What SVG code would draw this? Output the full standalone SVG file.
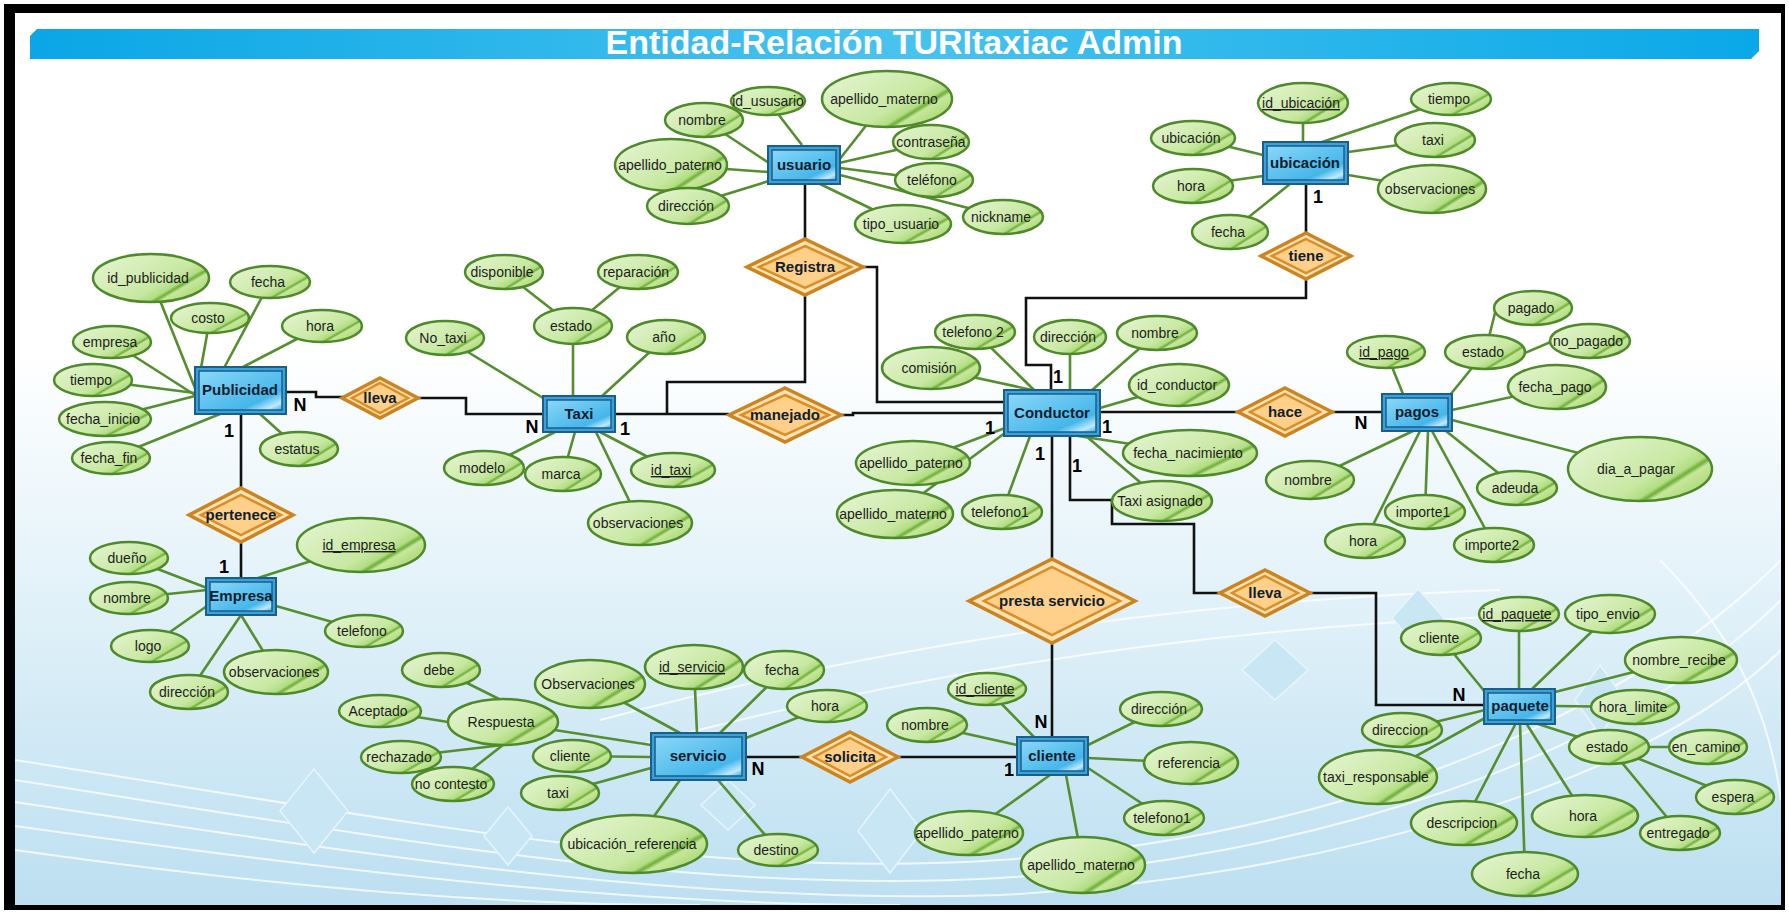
<svg xmlns="http://www.w3.org/2000/svg" width="1789" height="912" viewBox="0 0 1789 912">
<defs>
<linearGradient id="bg" x1="0" y1="0" x2="0" y2="1">
<stop offset="0" stop-color="#FFFFFF"/><stop offset="0.38" stop-color="#FFFFFF"/><stop offset="0.7" stop-color="#DDEFF8"/><stop offset="1" stop-color="#BCDFF1"/>
</linearGradient>
<linearGradient id="bar" x1="0" y1="0" x2="1" y2="0">
<stop offset="0" stop-color="#0AA6E6"/><stop offset="0.5" stop-color="#48C3EF"/><stop offset="1" stop-color="#0AA8E8"/>
</linearGradient>
<linearGradient id="ag" x1="0" y1="0.15" x2="1" y2="0.85">
<stop offset="0" stop-color="#E4F4D0"/><stop offset="0.6" stop-color="#C8E8A2"/><stop offset="0.71" stop-color="#B3DD84"/><stop offset="0.745" stop-color="#6FAF38"/><stop offset="0.78" stop-color="#C6E79C"/><stop offset="1" stop-color="#A2D264"/>
</linearGradient>
<linearGradient id="eg" x1="0" y1="0" x2="1" y2="1">
<stop offset="0" stop-color="#8AD7F8"/><stop offset="0.75" stop-color="#45B6EA"/><stop offset="0.9" stop-color="#BFEAFB"/><stop offset="1" stop-color="#3BA9DE"/>
</linearGradient>
<style>
.c{fill:none;stroke:#111;stroke-width:2.6}
.a{stroke:#558E2E;stroke-width:2.6}
.at{fill:url(#ag);stroke:#4F8A2A;stroke-width:2.5}
.t{font-family:"Liberation Sans",Arial,sans-serif;font-size:14px;fill:#1d1d1d;text-anchor:middle}
.u{text-decoration:underline}
.eo{fill:#3AA2D6;stroke:#1A5E8C;stroke-width:2}
.ei{fill:url(#eg);stroke:#1A5E8C;stroke-width:1.5}
.et{font-family:"Liberation Sans",Arial,sans-serif;font-size:15px;font-weight:bold;fill:#0f1e2e;text-anchor:middle}
.ro{fill:#FFE2B3;stroke:#CC8420;stroke-width:3.5}
.ri{fill:#FFD08A;stroke:#D98E26;stroke-width:2.5}
.card{font-family:"Liberation Sans",Arial,sans-serif;font-size:18px;font-weight:bold;fill:#000;text-anchor:middle}
.deco{fill:#C9E6F5;stroke:#E8F5FC;stroke-width:1.5}
.arc{fill:none;stroke:#FFFFFF;stroke-opacity:0.75;stroke-width:2}
</style>
</defs>

<!-- background & frame -->
<rect x="0" y="0" width="1789" height="912" fill="#FFFFFF"/>
<rect x="12" y="12" width="1772" height="895" fill="url(#bg)"/>
<g id="decoration">
<path class="arc" d="M15,760 C400,820 700,880 1000,860 C1300,840 1600,740 1781,560"/>
<path class="arc" d="M15,780 C400,840 700,895 1000,878 C1300,860 1620,760 1781,600"/>
<path class="arc" d="M15,802 C400,860 700,905 1000,895 C1300,880 1640,790 1781,650"/>
<path class="arc" d="M15,826 C400,880 650,905 900,905"/>
<path class="arc" d="M15,850 C300,890 500,905 700,905"/>
<path class="arc" d="M600,720 C900,640 1200,600 1500,590"/>
<path class="arc" d="M640,745 C940,665 1240,625 1540,615"/>
<path class="arc" d="M1660,560 C1740,640 1770,720 1781,800"/>
<polygon class="deco" points="314,769 348,811 314,853 280,811"/>
<polygon class="deco" points="508,807 532,836 508,865 484,836"/>
<polygon class="deco" points="728,780 755,805 728,830 701,805"/>
<polygon class="deco" points="890,789 922,831 890,873 858,831"/>
<polygon class="deco" points="1275,640 1308,670 1275,700 1242,670"/>
<polygon class="deco" points="1418,589 1444,618 1418,647 1392,618"/>
<polygon class="deco" points="1600,665 1625,700 1600,735 1575,700"/>
</g>
<g id="frame">
<rect x="4" y="4" width="11" height="906" fill="#000"/>
<rect x="4" y="4" width="1781" height="9" fill="#000"/>
<rect x="1781" y="4" width="4" height="906" fill="#000"/>
<rect x="4" y="905" width="1781" height="5" fill="#000"/>
</g>
<g id="title">
<polygon points="37,29 1759,29 1759,51 1751,59 30,59 30,36" fill="url(#bar)"/>
<text x="894" y="54" font-family="'Liberation Sans',Arial,sans-serif" font-size="34" font-weight="bold" fill="#FFFFFF" text-anchor="middle">Entidad-Relación TURItaxiac Admin</text>
</g>

<g id="connectors">
<!-- relationship connectors -->
<path class="c" d="M805,184 V240"/>
<path class="c" d="M862,267 H877 V402 H1004"/>
<path class="c" d="M805,295 V382 H667 V414"/>
<path class="c" d="M615,414 H729"/>
<path class="c" d="M841,415 H853 V413 H1004"/>
<path class="c" d="M1306,184 V234"/>
<path class="c" d="M1306,279 V298 H1026 V365 H1051 V390"/>
<path class="c" d="M1100,412 H1238"/>
<path class="c" d="M1332,412 H1382"/>
<path class="c" d="M286,392 H316 V397 H343"/>
<path class="c" d="M418,398 H466 V414 H543"/>
<path class="c" d="M241,414 V488"/>
<path class="c" d="M241,542 V578"/>
<path class="c" d="M1052,436 V559"/>
<path class="c" d="M1052,643 V737"/>
<path class="c" d="M1070,436 V500 H1112 V524 H1194 V593 H1220"/>
<path class="c" d="M1310,593 H1376 V705 H1484"/>
<path class="c" d="M746,757 H802"/>
<path class="c" d="M898,757 H1017"/>
<!-- attribute links: usuario -->
<line class="a" x1="768" y1="101" x2="802" y2="145"/>
<line class="a" x1="887" y1="99" x2="839" y2="160"/>
<line class="a" x1="704" y1="120" x2="769" y2="163"/>
<line class="a" x1="931" y1="142" x2="839" y2="163"/>
<line class="a" x1="671" y1="165" x2="768" y2="172"/>
<line class="a" x1="934" y1="180" x2="840" y2="168"/>
<line class="a" x1="688" y1="206" x2="769" y2="181"/>
<line class="a" x1="903" y1="224" x2="820" y2="184"/>
<line class="a" x1="1003" y1="217" x2="840" y2="175"/>
<!-- ubicacion -->
<line class="a" x1="1303" y1="103" x2="1303" y2="142"/>
<line class="a" x1="1451" y1="99" x2="1322" y2="142"/>
<line class="a" x1="1193" y1="138" x2="1263" y2="155"/>
<line class="a" x1="1435" y1="140" x2="1348" y2="152"/>
<line class="a" x1="1193" y1="186" x2="1263" y2="176"/>
<line class="a" x1="1432" y1="189" x2="1348" y2="175"/>
<line class="a" x1="1230" y1="232" x2="1290" y2="184"/>
<!-- Publicidad -->
<line class="a" x1="151" y1="278" x2="197" y2="393"/>
<line class="a" x1="270" y1="282" x2="224" y2="368"/>
<line class="a" x1="210" y1="318" x2="201" y2="368"/>
<line class="a" x1="322" y1="326" x2="241" y2="368"/>
<line class="a" x1="112" y1="342" x2="195" y2="395"/>
<line class="a" x1="93" y1="380" x2="195" y2="393"/>
<line class="a" x1="105" y1="419" x2="195" y2="396"/>
<line class="a" x1="111" y1="458" x2="220" y2="414"/>
<line class="a" x1="299" y1="449" x2="260" y2="414"/>
<!-- Taxi -->
<line class="a" x1="504" y1="272" x2="573" y2="326"/>
<line class="a" x1="638" y1="272" x2="573" y2="326"/>
<line class="a" x1="573" y1="326" x2="573" y2="397"/>
<line class="a" x1="445" y1="338" x2="543" y2="398"/>
<line class="a" x1="666" y1="337" x2="601" y2="397"/>
<line class="a" x1="484" y1="468" x2="555" y2="432"/>
<line class="a" x1="563" y1="474" x2="575" y2="432"/>
<line class="a" x1="673" y1="470" x2="600" y2="432"/>
<line class="a" x1="640" y1="523" x2="596" y2="432"/>
<!-- Conductor -->
<line class="a" x1="975" y1="332" x2="1034" y2="390"/>
<line class="a" x1="1070" y1="337" x2="1070" y2="390"/>
<line class="a" x1="1157" y1="333" x2="1091" y2="391"/>
<line class="a" x1="931" y1="368" x2="1032" y2="390"/>
<line class="a" x1="1179" y1="385" x2="1100" y2="408"/>
<line class="a" x1="913" y1="463" x2="1005" y2="428"/>
<line class="a" x1="895" y1="514" x2="1005" y2="433"/>
<line class="a" x1="1002" y1="512" x2="1030" y2="436"/>
<line class="a" x1="1190" y1="453" x2="1078" y2="436"/>
<line class="a" x1="1162" y1="501" x2="1086" y2="436"/>
<!-- pagos -->
<line class="a" x1="1386" y1="352" x2="1403" y2="394"/>
<line class="a" x1="1485" y1="352" x2="1450" y2="395"/>
<line class="a" x1="1487" y1="345" x2="1497" y2="305"/>
<line class="a" x1="1518" y1="356" x2="1560" y2="338"/>
<line class="a" x1="1557" y1="387" x2="1452" y2="410"/>
<line class="a" x1="1640" y1="469" x2="1452" y2="420"/>
<line class="a" x1="1310" y1="480" x2="1413" y2="431"/>
<line class="a" x1="1517" y1="488" x2="1446" y2="431"/>
<line class="a" x1="1425" y1="512" x2="1428" y2="431"/>
<line class="a" x1="1365" y1="541" x2="1420" y2="431"/>
<line class="a" x1="1494" y1="545" x2="1432" y2="431"/>
<!-- Empresa -->
<line class="a" x1="361" y1="545" x2="258" y2="578"/>
<line class="a" x1="129" y1="558" x2="207" y2="588"/>
<line class="a" x1="129" y1="598" x2="207" y2="590"/>
<line class="a" x1="364" y1="631" x2="276" y2="606"/>
<line class="a" x1="150" y1="646" x2="207" y2="606"/>
<line class="a" x1="276" y1="672" x2="241" y2="615"/>
<line class="a" x1="189" y1="692" x2="241" y2="615"/>
<!-- servicio -->
<line class="a" x1="590" y1="684" x2="680" y2="733"/>
<line class="a" x1="694" y1="667" x2="697" y2="733"/>
<line class="a" x1="784" y1="670" x2="720" y2="733"/>
<line class="a" x1="827" y1="706" x2="746" y2="738"/>
<line class="a" x1="503" y1="722" x2="651" y2="745"/>
<line class="a" x1="572" y1="756" x2="651" y2="757"/>
<line class="a" x1="560" y1="793" x2="651" y2="768"/>
<line class="a" x1="634" y1="844" x2="680" y2="780"/>
<line class="a" x1="778" y1="850" x2="718" y2="780"/>
<line class="a" x1="441" y1="670" x2="501" y2="700"/>
<line class="a" x1="380" y1="711" x2="448" y2="722"/>
<line class="a" x1="401" y1="757" x2="503" y2="745"/>
<line class="a" x1="453" y1="784" x2="503" y2="745"/>
<!-- cliente -->
<line class="a" x1="987" y1="689" x2="1034" y2="737"/>
<line class="a" x1="927" y1="725" x2="1017" y2="745"/>
<line class="a" x1="1161" y1="709" x2="1088" y2="745"/>
<line class="a" x1="1191" y1="763" x2="1088" y2="758"/>
<line class="a" x1="1164" y1="818" x2="1088" y2="768"/>
<line class="a" x1="969" y1="833" x2="1050" y2="775"/>
<line class="a" x1="1083" y1="865" x2="1066" y2="775"/>
<!-- paquete -->
<line class="a" x1="1441" y1="638" x2="1485" y2="692"/>
<line class="a" x1="1519" y1="614" x2="1519" y2="689"/>
<line class="a" x1="1610" y1="614" x2="1532" y2="689"/>
<line class="a" x1="1681" y1="660" x2="1555" y2="692"/>
<line class="a" x1="1635" y1="707" x2="1555" y2="706"/>
<line class="a" x1="1402" y1="730" x2="1485" y2="710"/>
<line class="a" x1="1609" y1="747" x2="1535" y2="723"/>
<line class="a" x1="1609" y1="747" x2="1708" y2="747"/>
<line class="a" x1="1609" y1="747" x2="1735" y2="797"/>
<line class="a" x1="1609" y1="747" x2="1680" y2="833"/>
<line class="a" x1="1378" y1="777" x2="1485" y2="718"/>
<line class="a" x1="1464" y1="823" x2="1516" y2="723"/>
<line class="a" x1="1585" y1="816" x2="1526" y2="723"/>
<line class="a" x1="1525" y1="874" x2="1520" y2="723"/>
<!-- cardinalities -->
<text class="card" x="300" y="411">N</text>
<text class="card" x="229" y="437">1</text>
<text class="card" x="532" y="433">N</text>
<text class="card" x="625" y="435">1</text>
<text class="card" x="990" y="434">1</text>
<text class="card" x="1058" y="383">1</text>
<text class="card" x="1107" y="433">1</text>
<text class="card" x="1040" y="460">1</text>
<text class="card" x="1077" y="472">1</text>
<text class="card" x="1361" y="429">N</text>
<text class="card" x="1318" y="203">1</text>
<text class="card" x="224" y="573">1</text>
<text class="card" x="1041" y="728">N</text>
<text class="card" x="758" y="775">N</text>
<text class="card" x="1009" y="776">1</text>
<text class="card" x="1459" y="701">N</text>
</g>

<!-- relationships -->
<g id="r-registra"><polygon class="ro" points="805,239 863,267 805,295 747,267"/><polygon class="ri" points="805,246 851,267 805,288 759,267"/><text class="et" x="805" y="272">Registra</text></g>
<g id="r-tiene"><polygon class="ro" points="1306,233 1351,256 1306,279 1261,256"/><polygon class="ri" points="1306,239 1340,256 1306,273 1272,256"/><text class="et" x="1306" y="261" font-size="14">tiene</text></g>
<g id="r-lleva-publicidad"><polygon class="ro" points="380,378 418,398 380,418 342,398"/><polygon class="ri" points="380,383 408,398 380,413 352,398"/><text class="et" x="380" y="403" font-size="14">lleva</text></g>
<g id="r-manejado"><polygon class="ro" points="785,388 841,415 785,442 729,415"/><polygon class="ri" points="785,395 829,415 785,435 741,415"/><text class="et" x="785" y="420">manejado</text></g>
<g id="r-hace"><polygon class="ro" points="1285,388 1332,412 1285,436 1238,412"/><polygon class="ri" points="1285,394 1320,412 1285,430 1250,412"/><text class="et" x="1285" y="417">hace</text></g>
<g id="r-pertenece"><polygon class="ro" points="241,488 293,515 241,542 189,515"/><polygon class="ri" points="241,495 281,515 241,535 201,515"/><text class="et" x="241" y="520" font-size="14">pertenece</text></g>
<g id="r-presta-servicio"><polygon class="ro" points="1052,559 1135,601 1052,643 969,601"/><polygon class="ri" points="1052,567 1120,601 1052,635 984,601"/><text class="et" x="1052" y="606">presta servicio</text></g>
<g id="r-lleva-paquete"><polygon class="ro" points="1265,570 1310,593 1265,616 1220,593"/><polygon class="ri" points="1265,576 1298,593 1265,610 1232,593"/><text class="et" x="1265" y="598" font-size="14">lleva</text></g>
<g id="r-solicita"><polygon class="ro" points="850,732 898,757 850,782 802,757"/><polygon class="ri" points="850,738 886,757 850,776 814,757"/><text class="et" x="850" y="762">solicita</text></g>

<!-- entities -->
<g id="e-usuario"><rect class="eo" x="768" y="146" width="72" height="38"/><rect class="ei" x="772" y="150" width="64" height="30"/><text class="et" x="804" y="170">usuario</text></g>
<g id="e-ubicacion"><rect class="eo" x="1263" y="142" width="85" height="42"/><rect class="ei" x="1267" y="146" width="77" height="34"/><text class="et" x="1305" y="168">ubicación</text></g>
<g id="e-publicidad"><rect class="eo" x="195" y="367" width="91" height="47"/><rect class="ei" x="199" y="371" width="83" height="39"/><text class="et" x="240" y="395" font-size="14.5">Publicidad</text></g>
<g id="e-taxi"><rect class="eo" x="543" y="396" width="72" height="36"/><rect class="ei" x="547" y="400" width="64" height="28"/><text class="et" x="579" y="419">Taxi</text></g>
<g id="e-conductor"><rect class="eo" x="1004" y="390" width="96" height="46"/><rect class="ei" x="1008" y="394" width="88" height="38"/><text class="et" x="1052" y="418">Conductor</text></g>
<g id="e-pagos"><rect class="eo" x="1382" y="394" width="70" height="37"/><rect class="ei" x="1386" y="398" width="62" height="29"/><text class="et" x="1417" y="417">pagos</text></g>
<g id="e-empresa"><rect class="eo" x="206" y="578" width="70" height="37"/><rect class="ei" x="210" y="582" width="62" height="29"/><text class="et" x="241" y="601" font-size="14">Empresa</text></g>
<g id="e-servicio"><rect class="eo" x="651" y="733" width="95" height="47"/><rect class="ei" x="655" y="737" width="87" height="39"/><text class="et" x="698" y="761">servicio</text></g>
<g id="e-cliente"><rect class="eo" x="1017" y="737" width="71" height="38"/><rect class="ei" x="1021" y="741" width="63" height="30"/><text class="et" x="1052" y="761">cliente</text></g>
<g id="e-paquete"><rect class="eo" x="1484" y="689" width="71" height="35"/><rect class="ei" x="1488" y="693" width="63" height="27"/><text class="et" x="1520" y="711" font-size="14">paquete</text></g>

<!-- attributes: usuario -->
<g id="a-usuario-id"><ellipse class="at" cx="768" cy="101" rx="37" ry="14"/><text class="t" x="768" y="106">id_ususario</text></g>
<g id="a-usuario-apmat"><ellipse class="at" cx="887" cy="99" rx="65" ry="28"/><text class="t" x="884" y="104">apellido_materno</text></g>
<g id="a-usuario-nombre"><ellipse class="at" cx="704" cy="120" rx="39" ry="17"/><text class="t" x="702" y="125">nombre</text></g>
<g id="a-usuario-pass"><ellipse class="at" cx="931" cy="142" rx="38" ry="17"/><text class="t" x="931" y="147">contraseña</text></g>
<g id="a-usuario-appat"><ellipse class="at" cx="671" cy="165" rx="56" ry="26"/><text class="t" x="670" y="170">apellido_paterno</text></g>
<g id="a-usuario-tel"><ellipse class="at" cx="934" cy="180" rx="39" ry="17"/><text class="t" x="932" y="185">teléfono</text></g>
<g id="a-usuario-dir"><ellipse class="at" cx="688" cy="206" rx="41" ry="18"/><text class="t" x="686" y="211">dirección</text></g>
<g id="a-usuario-tipo"><ellipse class="at" cx="903" cy="224" rx="48" ry="19"/><text class="t" x="901" y="229">tipo_usuario</text></g>
<g id="a-usuario-nick"><ellipse class="at" cx="1003" cy="217" rx="40" ry="17"/><text class="t" x="1001" y="222">nickname</text></g>
<!-- ubicacion -->
<g id="a-ubic-id"><ellipse class="at" cx="1303" cy="103" rx="45" ry="20"/><text class="t u" x="1301" y="108">id_ubicación</text></g>
<g id="a-ubic-tiempo"><ellipse class="at" cx="1451" cy="99" rx="40" ry="16"/><text class="t" x="1449" y="104">tiempo</text></g>
<g id="a-ubic-ubic"><ellipse class="at" cx="1193" cy="138" rx="42" ry="17"/><text class="t" x="1191" y="143">ubicación</text></g>
<g id="a-ubic-taxi"><ellipse class="at" cx="1435" cy="140" rx="40" ry="17"/><text class="t" x="1433" y="145">taxi</text></g>
<g id="a-ubic-hora"><ellipse class="at" cx="1193" cy="186" rx="40" ry="17"/><text class="t" x="1191" y="191">hora</text></g>
<g id="a-ubic-obs"><ellipse class="at" cx="1432" cy="189" rx="54" ry="24"/><text class="t" x="1430" y="194">observaciones</text></g>
<g id="a-ubic-fecha"><ellipse class="at" cx="1230" cy="232" rx="38" ry="17"/><text class="t" x="1228" y="237">fecha</text></g>
<!-- Publicidad -->
<g id="a-pub-id"><ellipse class="at" cx="151" cy="278" rx="58" ry="24"/><text class="t" x="148" y="283">id_publicidad</text></g>
<g id="a-pub-fecha"><ellipse class="at" cx="270" cy="282" rx="40" ry="16"/><text class="t" x="268" y="287">fecha</text></g>
<g id="a-pub-costo"><ellipse class="at" cx="210" cy="318" rx="39" ry="15"/><text class="t" x="208" y="323">costo</text></g>
<g id="a-pub-hora"><ellipse class="at" cx="322" cy="326" rx="40" ry="16"/><text class="t" x="320" y="331">hora</text></g>
<g id="a-pub-empresa"><ellipse class="at" cx="112" cy="342" rx="39" ry="16"/><text class="t" x="110" y="347">empresa</text></g>
<g id="a-pub-tiempo"><ellipse class="at" cx="93" cy="380" rx="39" ry="16"/><text class="t" x="91" y="385">tiempo</text></g>
<g id="a-pub-fini"><ellipse class="at" cx="105" cy="419" rx="46" ry="17"/><text class="t" x="103" y="424">fecha_inicio</text></g>
<g id="a-pub-ffin"><ellipse class="at" cx="111" cy="458" rx="39" ry="16"/><text class="t" x="109" y="463">fecha_fin</text></g>
<g id="a-pub-estatus"><ellipse class="at" cx="299" cy="449" rx="39" ry="17"/><text class="t" x="297" y="454">estatus</text></g>
<!-- Taxi -->
<g id="a-taxi-disp"><ellipse class="at" cx="504" cy="272" rx="39" ry="17"/><text class="t" x="502" y="277">disponible</text></g>
<g id="a-taxi-rep"><ellipse class="at" cx="638" cy="272" rx="40" ry="17"/><text class="t" x="636" y="277">reparación</text></g>
<g id="a-taxi-estado"><ellipse class="at" cx="573" cy="326" rx="39" ry="18"/><text class="t" x="571" y="331">estado</text></g>
<g id="a-taxi-no"><ellipse class="at" cx="445" cy="338" rx="39" ry="17"/><text class="t" x="443" y="343">No_taxi</text></g>
<g id="a-taxi-anio"><ellipse class="at" cx="666" cy="337" rx="39" ry="17"/><text class="t" x="664" y="342">año</text></g>
<g id="a-taxi-modelo"><ellipse class="at" cx="484" cy="468" rx="40" ry="17"/><text class="t" x="482" y="473">modelo</text></g>
<g id="a-taxi-marca"><ellipse class="at" cx="563" cy="474" rx="38" ry="17"/><text class="t" x="561" y="479">marca</text></g>
<g id="a-taxi-id"><ellipse class="at" cx="673" cy="470" rx="42" ry="17"/><text class="t u" x="671" y="475">id_taxi</text></g>
<g id="a-taxi-obs"><ellipse class="at" cx="640" cy="523" rx="52" ry="22"/><text class="t" x="638" y="528">observaciones</text></g>
<!-- Conductor -->
<g id="a-cond-tel2"><ellipse class="at" cx="975" cy="332" rx="40" ry="17"/><text class="t" x="973" y="337">telefono 2</text></g>
<g id="a-cond-dir"><ellipse class="at" cx="1070" cy="337" rx="36" ry="17"/><text class="t" x="1068" y="342">dirección</text></g>
<g id="a-cond-nombre"><ellipse class="at" cx="1157" cy="333" rx="40" ry="17"/><text class="t" x="1155" y="338">nombre</text></g>
<g id="a-cond-com"><ellipse class="at" cx="931" cy="368" rx="49" ry="21"/><text class="t" x="929" y="373">comisión</text></g>
<g id="a-cond-id"><ellipse class="at" cx="1179" cy="385" rx="50" ry="21"/><text class="t" x="1177" y="390">id_conductor</text></g>
<g id="a-cond-appat"><ellipse class="at" cx="913" cy="463" rx="57" ry="22"/><text class="t" x="911" y="468">apellido_paterno</text></g>
<g id="a-cond-apmat"><ellipse class="at" cx="895" cy="514" rx="58" ry="24"/><text class="t" x="893" y="519">apellido_materno</text></g>
<g id="a-cond-tel1"><ellipse class="at" cx="1002" cy="512" rx="40" ry="17"/><text class="t" x="1000" y="517">telefono1</text></g>
<g id="a-cond-fnac"><ellipse class="at" cx="1190" cy="453" rx="67" ry="23"/><text class="t" x="1188" y="458">fecha_nacimiento</text></g>
<g id="a-cond-taxi"><ellipse class="at" cx="1162" cy="501" rx="50" ry="20"/><text class="t" x="1160" y="506">Taxi asignado</text></g>
<!-- pagos -->
<g id="a-pagos-id"><ellipse class="at" cx="1386" cy="352" rx="39" ry="16"/><text class="t u" x="1384" y="357">id_pago</text></g>
<g id="a-pagos-estado"><ellipse class="at" cx="1485" cy="352" rx="40" ry="17"/><text class="t" x="1483" y="357">estado</text></g>
<g id="a-pagos-pagado"><ellipse class="at" cx="1533" cy="308" rx="39" ry="17"/><text class="t" x="1531" y="313">pagado</text></g>
<g id="a-pagos-nopagado"><ellipse class="at" cx="1590" cy="341" rx="40" ry="17"/><text class="t" x="1588" y="346">no_pagado</text></g>
<g id="a-pagos-fecha"><ellipse class="at" cx="1557" cy="387" rx="49" ry="22"/><text class="t" x="1555" y="392">fecha_pago</text></g>
<g id="a-pagos-dia"><ellipse class="at" cx="1640" cy="469" rx="72" ry="32"/><text class="t" x="1636" y="474">dia_a_pagar</text></g>
<g id="a-pagos-nombre"><ellipse class="at" cx="1310" cy="480" rx="44" ry="19"/><text class="t" x="1308" y="485">nombre</text></g>
<g id="a-pagos-adeuda"><ellipse class="at" cx="1517" cy="488" rx="40" ry="17"/><text class="t" x="1515" y="493">adeuda</text></g>
<g id="a-pagos-imp1"><ellipse class="at" cx="1425" cy="512" rx="40" ry="17"/><text class="t" x="1423" y="517">importe1</text></g>
<g id="a-pagos-hora"><ellipse class="at" cx="1365" cy="541" rx="40" ry="17"/><text class="t" x="1363" y="546">hora</text></g>
<g id="a-pagos-imp2"><ellipse class="at" cx="1494" cy="545" rx="40" ry="17"/><text class="t" x="1492" y="550">importe2</text></g>
<!-- Empresa -->
<g id="a-emp-id"><ellipse class="at" cx="361" cy="545" rx="64" ry="27"/><text class="t u" x="359" y="550">id_empresa</text></g>
<g id="a-emp-duenio"><ellipse class="at" cx="129" cy="558" rx="39" ry="16"/><text class="t" x="127" y="563">dueño</text></g>
<g id="a-emp-nombre"><ellipse class="at" cx="129" cy="598" rx="39" ry="16"/><text class="t" x="127" y="603">nombre</text></g>
<g id="a-emp-tel"><ellipse class="at" cx="364" cy="631" rx="39" ry="16"/><text class="t" x="362" y="636">telefono</text></g>
<g id="a-emp-logo"><ellipse class="at" cx="150" cy="646" rx="39" ry="16"/><text class="t" x="148" y="651">logo</text></g>
<g id="a-emp-obs"><ellipse class="at" cx="276" cy="672" rx="52" ry="22"/><text class="t" x="274" y="677">observaciones</text></g>
<g id="a-emp-dir"><ellipse class="at" cx="189" cy="692" rx="39" ry="17"/><text class="t" x="187" y="697">dirección</text></g>
<!-- servicio -->
<g id="a-serv-obs"><ellipse class="at" cx="590" cy="684" rx="55" ry="24"/><text class="t" x="588" y="689">Observaciones</text></g>
<g id="a-serv-id"><ellipse class="at" cx="694" cy="667" rx="49" ry="22"/><text class="t u" x="692" y="672">id_servicio</text></g>
<g id="a-serv-fecha"><ellipse class="at" cx="784" cy="670" rx="40" ry="19"/><text class="t" x="782" y="675">fecha</text></g>
<g id="a-serv-hora"><ellipse class="at" cx="827" cy="706" rx="40" ry="16"/><text class="t" x="825" y="711">hora</text></g>
<g id="a-serv-resp"><ellipse class="at" cx="503" cy="722" rx="55" ry="23"/><text class="t" x="501" y="727">Respuesta</text></g>
<g id="a-serv-cliente"><ellipse class="at" cx="572" cy="756" rx="39" ry="16"/><text class="t" x="570" y="761">cliente</text></g>
<g id="a-serv-taxi"><ellipse class="at" cx="560" cy="793" rx="39" ry="17"/><text class="t" x="558" y="798">taxi</text></g>
<g id="a-serv-ubic"><ellipse class="at" cx="634" cy="844" rx="73" ry="29"/><text class="t" x="632" y="849">ubicación_referencia</text></g>
<g id="a-serv-destino"><ellipse class="at" cx="778" cy="850" rx="40" ry="16"/><text class="t" x="776" y="855">destino</text></g>
<g id="a-resp-debe"><ellipse class="at" cx="441" cy="670" rx="39" ry="17"/><text class="t" x="439" y="675">debe</text></g>
<g id="a-resp-acept"><ellipse class="at" cx="380" cy="711" rx="41" ry="16"/><text class="t" x="378" y="716">Aceptado</text></g>
<g id="a-resp-rech"><ellipse class="at" cx="401" cy="757" rx="40" ry="16"/><text class="t" x="399" y="762">rechazado</text></g>
<g id="a-resp-nocont"><ellipse class="at" cx="453" cy="784" rx="41" ry="17"/><text class="t" x="451" y="789">no contesto</text></g>
<!-- cliente -->
<g id="a-cli-id"><ellipse class="at" cx="987" cy="689" rx="39" ry="16"/><text class="t u" x="985" y="694">id_cliente</text></g>
<g id="a-cli-nombre"><ellipse class="at" cx="927" cy="725" rx="40" ry="17"/><text class="t" x="925" y="730">nombre</text></g>
<g id="a-cli-dir"><ellipse class="at" cx="1161" cy="709" rx="41" ry="17"/><text class="t" x="1159" y="714">dirección</text></g>
<g id="a-cli-ref"><ellipse class="at" cx="1191" cy="763" rx="47" ry="21"/><text class="t" x="1189" y="768">referencia</text></g>
<g id="a-cli-tel"><ellipse class="at" cx="1164" cy="818" rx="40" ry="17"/><text class="t" x="1162" y="823">telefono1</text></g>
<g id="a-cli-appat"><ellipse class="at" cx="969" cy="833" rx="54" ry="22"/><text class="t" x="967" y="838">apellido_paterno</text></g>
<g id="a-cli-apmat"><ellipse class="at" cx="1083" cy="865" rx="62" ry="28"/><text class="t" x="1081" y="870">apellido_materno</text></g>
<!-- paquete -->
<g id="a-paq-cliente"><ellipse class="at" cx="1441" cy="638" rx="40" ry="17"/><text class="t" x="1439" y="643">cliente</text></g>
<g id="a-paq-id"><ellipse class="at" cx="1519" cy="614" rx="40" ry="17"/><text class="t u" x="1517" y="619">id_paquete</text></g>
<g id="a-paq-tipo"><ellipse class="at" cx="1610" cy="614" rx="45" ry="19"/><text class="t" x="1608" y="619">tipo_envio</text></g>
<g id="a-paq-nombre"><ellipse class="at" cx="1681" cy="660" rx="56" ry="23"/><text class="t" x="1679" y="665">nombre_recibe</text></g>
<g id="a-paq-horalim"><ellipse class="at" cx="1635" cy="707" rx="44" ry="17"/><text class="t" x="1633" y="712">hora_limite</text></g>
<g id="a-paq-dir"><ellipse class="at" cx="1402" cy="730" rx="40" ry="17"/><text class="t" x="1400" y="735">direccion</text></g>
<g id="a-paq-estado"><ellipse class="at" cx="1609" cy="747" rx="40" ry="17"/><text class="t" x="1607" y="752">estado</text></g>
<g id="a-paq-camino"><ellipse class="at" cx="1708" cy="747" rx="39" ry="17"/><text class="t" x="1706" y="752">en_camino</text></g>
<g id="a-paq-taxi"><ellipse class="at" cx="1378" cy="777" rx="59" ry="27"/><text class="t" x="1376" y="782">taxi_responsable</text></g>
<g id="a-paq-espera"><ellipse class="at" cx="1735" cy="797" rx="39" ry="17"/><text class="t" x="1733" y="802">espera</text></g>
<g id="a-paq-desc"><ellipse class="at" cx="1464" cy="823" rx="53" ry="22"/><text class="t" x="1462" y="828">descripcion</text></g>
<g id="a-paq-hora"><ellipse class="at" cx="1585" cy="816" rx="53" ry="21"/><text class="t" x="1583" y="821">hora</text></g>
<g id="a-paq-entregado"><ellipse class="at" cx="1680" cy="833" rx="40" ry="17"/><text class="t" x="1678" y="838">entregado</text></g>
<g id="a-paq-fecha"><ellipse class="at" cx="1525" cy="874" rx="53" ry="22"/><text class="t" x="1523" y="879">fecha</text></g>
</svg>
